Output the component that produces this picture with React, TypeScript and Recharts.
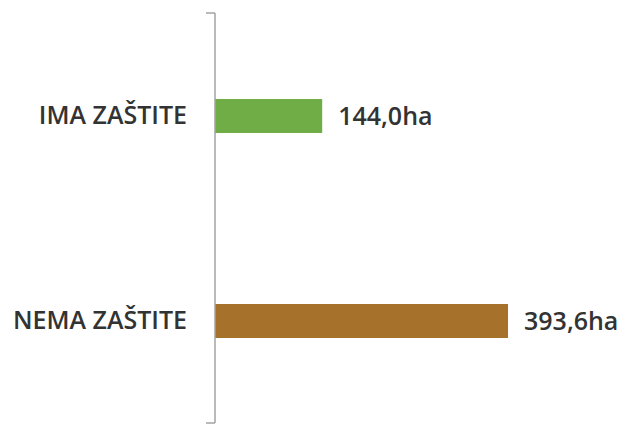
import { BarChart, Bar, XAxis, YAxis, Cell, LabelList } from 'recharts'

const categories = ['IMA ZAŠTITE', 'NEMA ZAŠTITE']
const values = [144.0, 393.6]
const colors = ['#70AD47', '#A5712B']
const gridTicks = [0, 1, 2]

const data = categories.map((name, i) => ({ name, value: values[i] }))

const T = { axis: '#A3A3A3', text: '#333333', font: '"Open Sans", Lato, sans-serif' } as const

export default function App() {
  return (
    <div style={{ position: 'absolute', left: 0, top: 0, background: '#fff' }}>
      <BarChart
        width={625}
        height={426}
        data={data}
        layout="vertical"
        margin={{ top: 13, right: 75, bottom: 3, left: 0 }}
      >
        <XAxis type="number" domain={[0, 450]} hide />
        <YAxis
          yAxisId="b"
          type="category"
          dataKey="name"
          width={214}
          axisLine={false}
          tickLine={false}
          tickSize={0}
          tickMargin={27}
          tick={{ fontSize: 25, fontWeight: 600, fill: T.text, fontFamily: T.font }}
        />
        <YAxis
          yAxisId="a"
          type="number"
          domain={[0, 2]}
          ticks={gridTicks}
          interval={0}
          width={1}
          tickFormatter={() => ''}
          tickSize={9}
          stroke={T.axis}
          strokeWidth={1.5}
        />
        <Bar yAxisId="b" dataKey="value" barSize={34} isAnimationActive={false}>
          {data.map((d, i) => (
            <Cell key={d.name} fill={colors[i]} />
          ))}
          <LabelList
            dataKey="value"
            position="right"
            offset={16}
            formatter={(v: any) => `${Number(v).toFixed(1).replace('.', ',')}ha`}
            style={{ fontSize: 25, fontWeight: 600, fill: T.text, fontFamily: T.font }}
          />
        </Bar>
      </BarChart>
    </div>
  )
}
